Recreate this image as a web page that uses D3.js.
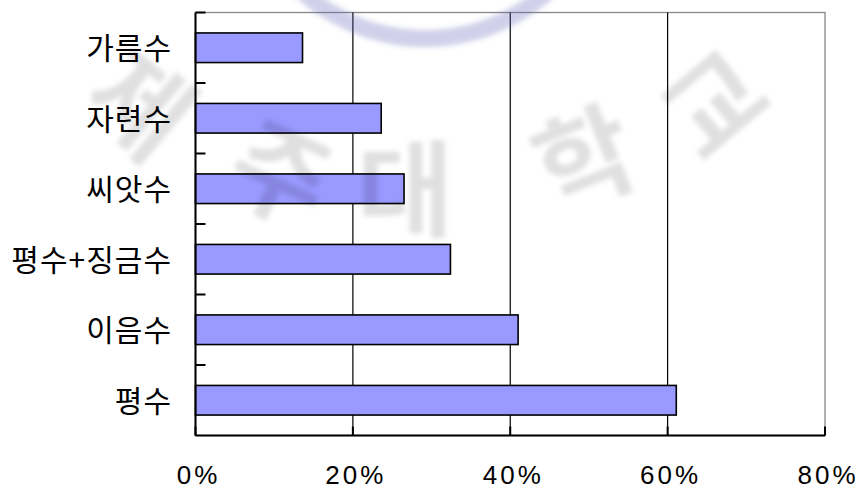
<!DOCTYPE html>
<html><head><meta charset="utf-8">
<script src="https://cdn.jsdelivr.net/npm/d3@7"></script>
<style>html,body{margin:0;padding:0;background:#fff;}svg{display:block;}</style>
</head><body><svg id="c" width="858" height="490"></svg>
<script>
const categories = ["가름수", "자련수", "씨앗수", "평수+징금수", "이음수", "평수"];
const values = [13.6, 23.6, 26.5, 32.4, 41.0, 61.1];
const xTicks = [0, 20, 40, 60, 80];
const watermarkChars = ["제", "주", "대", "학", "교"];

const svg = d3.select("#c");
const L = 195.5, R = 825, T = 12.5, B = 435.5;
const x = d3.scaleLinear().domain([0, 80]).range([L, R]);
const y = d3.scaleBand().domain(categories).range([T, B]).paddingInner(0.58).paddingOuter(0.29);

// plot frame (top/right gray)
svg.append("rect").attr("x", L).attr("y", T).attr("width", R - L).attr("height", B - T)
  .attr("fill", "#fff").attr("stroke", "#888").attr("stroke-width", 1.3);

// vertical gridlines
svg.append("g").selectAll("line").data(xTicks.filter(d => d > 0 && d < 80)).join("line")
  .attr("x1", d => x(d)).attr("x2", d => x(d)).attr("y1", T).attr("y2", B)
  .attr("stroke", "#000").attr("stroke-width", 1.2);

// bars
svg.append("g").selectAll("rect").data(categories).join("rect")
  .attr("x", L).attr("y", d => y(d))
  .attr("width", (d, i) => x(values[i]) - L).attr("height", y.bandwidth())
  .attr("fill", "#9999ff").attr("stroke", "#000").attr("stroke-width", 1.6);

// left axis with inward ticks at category boundaries
const stepY = y.step();
const bounds = d3.range(categories.length + 1).map(i => T + i * stepY);
const gl = svg.append("g");
gl.append("line").attr("x1", L).attr("x2", L).attr("y1", T).attr("y2", B).attr("stroke", "#000").attr("stroke-width", 2);
gl.selectAll("line.t").data(bounds.slice(0, -1)).join("line").attr("class", "t")
  .attr("x1", L).attr("x2", L + 10).attr("y1", d => d).attr("y2", d => d)
  .attr("stroke", "#000").attr("stroke-width", 2);

// bottom axis with inward ticks
const gb = svg.append("g");
gb.append("line").attr("x1", L).attr("x2", R).attr("y1", B).attr("y2", B).attr("stroke", "#000").attr("stroke-width", 2);
gb.selectAll("line.t").data(xTicks).join("line").attr("class", "t")
  .attr("x1", d => x(d)).attr("x2", d => x(d)).attr("y1", B).attr("y2", B - 9)
  .attr("stroke", "#000").attr("stroke-width", 2);

// tick labels
svg.append("g").selectAll("text").data(xTicks).join("text")
  .attr("x", d => x(d) + 3).attr("y", 484)
  .attr("text-anchor", "middle")
  .attr("font-family", "'Liberation Sans', 'DejaVu Sans', sans-serif")
  .attr("font-size", 26).attr("letter-spacing", 3)
  .attr("fill", "#000")
  .text(d => d + "%");

svg.append("g").selectAll("text").data(categories).join("text")
  .attr("x", 172).attr("y", d => y(d) + y.bandwidth() / 2)
  .attr("dy", "0.38em")
  .attr("text-anchor", "end")
  .attr("font-family", "'Noto Sans CJK KR', sans-serif")
  .attr("font-size", 30).attr("letter-spacing", 1)
  .attr("fill", "#000")
  .text(d => d);

// watermark overlay
const defs = svg.append("defs");
defs.append("filter").attr("id", "blur").append("feGaussianBlur").attr("stdDeviation", 2.5);
const wm = svg.append("g").attr("filter", "url(#blur)").attr("pointer-events", "none");
wm.append("path")
  .attr("d", d3.arc()({innerRadius: 175, outerRadius: 192, startAngle: Math.PI * 0.64, endAngle: Math.PI * 1.3}))
  .attr("transform", "translate(425,-145)")
  .attr("fill", "#6666bb").attr("opacity", 0.3);
const wmPos = [[140, 105, 40], [280, 175, 25], [405, 190, 0], [585, 160, -22], [715, 105, -40]];
wm.selectAll("text").data(watermarkChars).join("text")
  .attr("transform", (d, i) => `translate(${wmPos[i][0]},${wmPos[i][1]}) rotate(${wmPos[i][2]})`)
  .attr("text-anchor", "middle").attr("dy", "0.36em")
  .attr("font-family", "'Noto Sans CJK KR', sans-serif").attr("font-weight", 700)
  .attr("font-size", 105)
  .attr("fill", "#000").attr("opacity", 0.12)
  .text(d => d);
</script></body></html>
